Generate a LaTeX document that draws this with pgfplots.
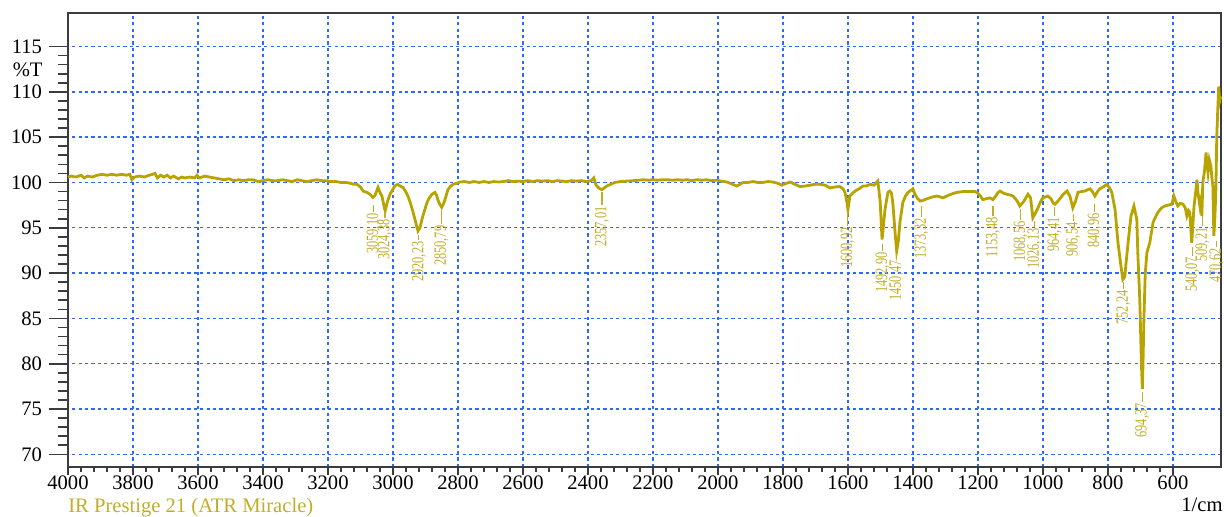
\documentclass[border=0pt]{standalone}
\usepackage{pgfplots}
\pgfplotsset{compat=1.18}
\usepackage{fontspec}
\setmainfont{Liberation Serif}
\usetikzlibrary{calc}
\definecolor{spec}{RGB}{184,164,0}
\definecolor{lab}{RGB}{192,174,40}
\definecolor{gridblue}{RGB}{45,105,255}
\definecolor{axiscol}{RGB}{60,60,60}
\newcommand{\pk}[4]{\draw[lab, line width=0.6pt] (axis cs:#1,#2) -- (axis cs:#1,#3) node[rotate=90, anchor=east, inner sep=0.3pt, text=lab, font=\fontsize{8.6}{9}\selectfont] {\scalebox{0.72}[1]{#4}};}
\begin{document}
\begin{tikzpicture}
\begin{axis}[
  scale only axis, width=576.5pt, height=227pt,
  x dir=reverse, xmin=452, xmax=4000, ymin=68.6, ymax=118.7,
  xtick={600,800,...,4000}, minor x tick num=4,
  ytick={70,75,...,115},
  grid=major,
  major grid style={gridblue, dash pattern=on 1.6pt off 1.6pt, line width=0.7pt},
  tick align=outside, tick pos=left,
  major tick length=4pt, minor tick length=2.5pt,
  xtick style={axiscol, line width=0.8pt},
  ytick style={draw=none},
  axis line style={axiscol, line width=1pt},
  ticklabel style={font=\fontsize{10.3}{12}\selectfont},
  xticklabel style={yshift=3pt},
  yticklabel style={xshift=-5.5pt},
  /pgf/number format/assume math mode=true,
  /pgf/number format/1000 sep={},
  clip=false,
]
\addplot[spec, line width=1.4pt] coordinates {
(4000,100.6)(3990,100.7)(3975,100.6)(3960,100.8)(3950,100.5)(3940,100.7)(3925,100.6)(3910,100.8)(3895,100.9)(3880,100.8)
(3865,100.9)(3850,100.8)(3835,100.9)(3820,100.8)(3810,100.9)(3803,100.3)(3795,100.6)(3780,100.7)(3765,100.6)(3750,100.8)
(3740,100.9)(3732,101.0)(3725,100.5)(3715,100.8)(3705,100.6)(3695,100.8)(3685,100.5)(3675,100.7)(3660,100.4)(3650,100.6)
(3640,100.5)(3625,100.6)(3610,100.5)(3603,100.8)(3595,100.5)(3580,100.7)(3565,100.6)(3550,100.5)(3535,100.4)(3520,100.3)
(3505,100.4)(3490,100.2)(3475,100.3)(3460,100.2)(3445,100.3)(3430,100.3)(3415,100.1)(3400,100.2)(3385,100.3)(3370,100.2)
(3355,100.2)(3340,100.3)(3325,100.2)(3310,100.1)(3295,100.3)(3280,100.2)(3265,100.1)(3250,100.2)(3235,100.3)(3220,100.2)
(3205,100.2)(3190,100.1)(3175,100.1)(3160,100.0)(3145,100.0)(3130,99.9)(3120,99.8)(3111,99.8)(3100,99.5)(3092,99.05)
(3080,98.9)(3071,98.7)(3062,98.35)(3055,98.6)(3046,99.45)(3040,98.9)(3034,98.5)(3028,97.5)(3024,96.85)(3019,97.6)
(3015,98.1)(3008,98.8)(3003,99.05)(2995,99.6)(2985,99.8)(2978,99.6)(2969,99.45)(2961,99.0)(2954,98.5)(2946,97.7)
(2938,96.7)(2930,95.6)(2923,94.65)(2917,95.0)(2911,95.9)(2903,96.9)(2895,97.8)(2888,98.3)(2880,98.7)(2871,98.9)
(2866,98.6)(2862,98.1)(2856,97.6)(2850,97.25)(2845,97.6)(2840,98.1)(2835,98.7)(2831,99.2)(2822,99.6)(2815,99.8)
(2805,99.9)(2794,100.05)(2780,100.1)(2765,100.0)(2750,100.1)(2735,100.0)(2720,100.1)(2705,100.0)(2690,100.1)(2675,100.05)
(2660,100.1)(2645,100.2)(2630,100.1)(2615,100.15)(2600,100.1)(2585,100.2)(2570,100.1)(2555,100.2)(2540,100.15)(2525,100.2)
(2510,100.1)(2495,100.2)(2480,100.15)(2465,100.1)(2450,100.2)(2435,100.15)(2420,100.2)(2405,100.1)(2390,100.2)(2382,100.5)
(2375,99.7)(2365,99.35)(2357,99.2)(2350,99.4)(2342,99.6)(2330,99.8)(2317,100.0)(2300,100.1)(2280,100.15)(2260,100.2)
(2245,100.25)(2230,100.3)(2215,100.25)(2200,100.3)(2185,100.25)(2170,100.3)(2155,100.3)(2140,100.25)(2125,100.3)(2110,100.25)
(2095,100.3)(2080,100.2)(2065,100.3)(2050,100.25)(2035,100.3)(2020,100.2)(2003,100.25)(1990,100.15)(1972,100.05)(1955,99.8)
(1942,99.6)(1932,99.8)(1923,100.0)(1908,100.0)(1892,100.1)(1877,100.0)(1862,100.0)(1846,100.1)(1831,100.05)(1815,99.9)
(1803,99.7)(1790,99.9)(1778,100.05)(1763,99.8)(1748,99.55)(1732,99.6)(1717,99.7)(1700,99.8)(1686,99.8)(1670,99.7)
(1655,99.4)(1640,99.5)(1625,99.55)(1615,99.3)(1609,98.9)(1603,97.8)(1600,97.0)(1594,98.5)(1586,98.8)(1578,99.05)
(1566,99.3)(1554,99.6)(1543,99.6)(1532,99.8)(1520,99.7)(1508,100.15)(1501,98.0)(1495,93.7)(1490,95.5)(1486,97.0)
(1477,98.9)(1471,99.05)(1466,98.8)(1462,97.8)(1455,94.5)(1450,92.45)(1445,93.5)(1440,95.6)(1431,97.8)(1423,98.5)
(1415,98.9)(1400,99.3)(1394,98.7)(1385,98.2)(1378,97.95)(1370,98.0)(1357,98.2)(1340,98.4)(1326,98.5)(1315,98.4)
(1308,98.3)(1290,98.6)(1275,98.8)(1265,98.9)(1245,99.0)(1225,99.0)(1210,99.0)(1203,98.9)(1192,98.5)(1185,98.1)
(1175,98.2)(1163,98.3)(1154,98.1)(1145,98.5)(1138,98.9)(1132,99.05)(1120,98.8)(1111,98.7)(1100,98.6)(1092,98.5)
(1080,98.0)(1071,97.4)(1064,97.7)(1058,97.95)(1046,98.7)(1038,98.3)(1031,96.1)(1025,96.5)(1015,97.2)(1007,97.9)
(1000,98.3)(992,98.4)(985,98.5)(975,98.2)(968,97.7)(963,97.6)(955,97.9)(948,98.2)(937,98.7)(926,99.05)
(917,98.5)(912,97.8)(908,97.2)(900,97.9)(892,98.9)(881,99.0)(871,99.05)(862,99.2)(855,99.3)(848,99.0)
(840,98.5)(832,99.0)(825,99.3)(815,99.5)(803,99.8)(795,99.4)(788,98.9)(778,97.0)(769,93.35)(760,90.8)
(754,89.3)(748,89.6)(745,90.8)(738,93.35)(729,96.3)(720,97.4)(711,95.9)(708,92.25)(702,87.1)(697,80.1)
(694,77.2)(692,80.1)(689,85.3)(685,90.0)(680,92.25)(671,93.4)(661,95.6)(652,96.3)(646,96.7)(635,97.2)
(625,97.4)(615,97.5)(603,97.6)(597,98.5)(590,97.8)(585,97.4)(577,97.7)(569,97.6)(562,97.2)(557,96.3)
(552,96.9)(548,96.7)(542,93.35)(535,97.4)(530,98.9)(526,100.3)(523,98.9)(517,97.4)(514,98.0)(511,96.3)
(508,100.0)(503,101.2)(498,103.3)(495,102.0)(492,101.1)(488,102.5)(483,101.8)(480,100.5)(477,99.6)(474,94.1)
(471,96.0)(468,98.9)(465,105.1)(462,108.0)(459,110.6)(456,109.0)(453,109.5)
};
\pk{3059.10}{97.47}{96.70}{3059,10}
\pk{3024.38}{96.70}{96.04}{3024,38}
\pk{2920.23}{94.16}{93.61}{2920,23}
\pk{2850.79}{96.92}{95.37}{2850,79}
\pk{2357.01}{98.90}{97.47}{2357,01}
\pk{1600.92}{96.70}{95.15}{1600,92}
\pk{1492.90}{93.17}{92.40}{1492,90}
\pk{1450.47}{92.07}{91.52}{1450,47}
\pk{1373.32}{97.36}{96.15}{1373,32}
\pk{1153.48}{97.36}{96.26}{1153,48}
\pk{1068.56}{97.03}{95.82}{1068,56}
\pk{1026.13}{95.71}{95.04}{1026,13}
\pk{964.41}{97.25}{96.26}{964,41}
\pk{906.54}{96.48}{95.71}{906,54}
\pk{840.96}{97.58}{96.70}{840,96}
\pk{752.24}{88.98}{88.21}{752,24}
\pk{694.37}{76.85}{75.75}{694,37}
\pk{540.07}{92.84}{91.85}{540,07}
\pk{509.21}{96.26}{95.15}{509,21}
\pk{466}{93.50}{92.84}{470,62}
\node[anchor=east, inner sep=0pt, xshift=-12.5pt, font=\fontsize{10.3}{12}\selectfont] at (axis cs:4000,112.4) {\%T};
\node[anchor=north east, inner sep=0pt, font=\fontsize{10.3}{12}\selectfont] at ($(rel axis cs:1,0)+(1pt,-15pt)$) {1/cm};
\node[anchor=north west, inner sep=0pt, text=lab, font=\fontsize{10.3}{12}\selectfont] at ($(rel axis cs:0,0)+(0pt,-15.5pt)$) {IR Prestige 21 (ATR Miracle)};
\coordinate (LL) at (rel axis cs:0,0);
\coordinate (UR) at (rel axis cs:1,1);
\end{axis}
\begin{axis}[
  scale only axis, width=576.5pt, height=227pt,
  x dir=reverse, xmin=452, xmax=4000, ymin=68.6, ymax=118.7,
  xtick=\empty,
  ytick={70,75,...,115}, minor y tick num=4, yticklabels={},
  tick align=outside, tick pos=left,
  major tick length=9.5pt, minor tick length=5pt,
  ytick style={axiscol, line width=0.8pt},
  axis line style={draw=none},
]
\end{axis}
\pgfresetboundingbox
\path[use as bounding box] ($(LL)+(-34pt,-24.5pt)$) rectangle ($(UR)+(1.5pt,6.5pt)$);
\end{tikzpicture}
\end{document}
